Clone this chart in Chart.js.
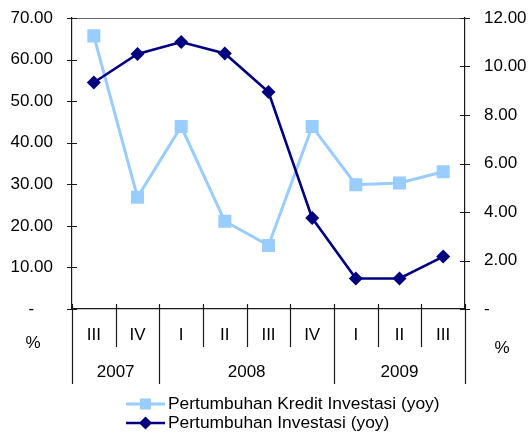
<!DOCTYPE html>
<html>
<head>
<meta charset="utf-8">
<script src="https://cdn.jsdelivr.net/npm/chart.js@4/dist/chart.umd.min.js"></script>
<style>
  html, body { margin: 0; padding: 0; background: #fff; }
  canvas { display: block; }
</style>
</head>
<body>
<canvas id="c" width="529" height="436"></canvas>
<script>
// Quarterly growth, year on year (%)
const quarters = ['III', 'IV', 'I', 'II', 'III', 'IV', 'I', 'II', 'III'];
const years = ['2007', '2008', '2009'];
const yearSpans = [2, 4, 3]; // quarters per year group
const kreditInvestasi = [65.7, 26.9, 43.9, 21.1, 15.3, 43.9, 29.9, 30.3, 33.0];
const investasi = [9.34, 10.52, 11.01, 10.54, 8.95, 3.75, 1.26, 1.26, 2.16];
const seriesNames = ['Pertumbuhan Kredit Investasi (yoy)', 'Pertumbuhan Investasi (yoy)'];
const leftTicks = [0, 10, 20, 30, 40, 50, 60, 70];
const rightTicks = [0, 2, 4, 6, 8, 10, 12];

const FONT = 'Liberation Sans, Arial, sans-serif';
const FS = 17;
const LIGHT = '#99CCFF';
const NAVY = '#000080';
const AXIS = '#1a1a1a';

// accounting-style number format: zero shown as a dash
function fmtLeft(v) { return v === 0 ? '-    ' : v.toFixed(2); }
function fmtRight(v) { return v === 0 ? '-' : v.toFixed(2); }

// fixed axis sizes so the plot area sits where the layout needs it
function fixPadding(s) {
  s.paddingTop = 0; s.paddingBottom = 0; s.paddingLeft = 0; s.paddingRight = 0;
}

const decorations = {
  id: 'decorations',
  afterDraw(chart) {
    const ctx = chart.ctx;
    const a = chart.chartArea;
    const x = chart.scales.x, yl = chart.scales.y, yr = chart.scales.y2;
    ctx.save();
    // top border of plot area
    ctx.strokeStyle = '#666';
    ctx.lineWidth = 1;
    ctx.beginPath();
    ctx.moveTo(a.left, Math.round(a.top) + 0.5);
    ctx.lineTo(a.right, Math.round(a.top) + 0.5);
    ctx.stroke();

    ctx.strokeStyle = AXIS;
    ctx.lineWidth = 1.2;
    // crossing tick marks on both value axes
    ctx.beginPath();
    leftTicks.forEach(v => {
      const p = Math.round(yl.getPixelForValue(v)) + 0.5;
      ctx.moveTo(a.left - 5, p); ctx.lineTo(a.left + 5, p);
    });
    rightTicks.forEach(v => {
      const p = Math.round(yr.getPixelForValue(v)) + 0.5;
      ctx.moveTo(a.right - 5, p); ctx.lineTo(a.right + 5, p);
    });
    ctx.stroke();

    // category separators
    const bound = i => {
      if (i === 0) return a.left;
      if (i === quarters.length) return a.right;
      return (x.getPixelForValue(i - 1) + x.getPixelForValue(i)) / 2;
    };
    const yearBounds = [0];
    yearSpans.forEach(s => yearBounds.push(yearBounds[yearBounds.length - 1] + s));
    ctx.beginPath();
    for (let i = 0; i <= quarters.length; i++) {
      const bx = Math.round(bound(i)) + 0.5;
      const long = yearBounds.includes(i);
      ctx.moveTo(bx, a.bottom - 5);
      ctx.lineTo(bx, long ? a.bottom + 75 : a.bottom + 38);
    }
    ctx.stroke();

    // year labels
    ctx.fillStyle = '#000';
    ctx.font = FS + 'px ' + FONT;
    ctx.textAlign = 'center';
    ctx.textBaseline = 'middle';
    years.forEach((yr_, k) => {
      const cx = (bound(yearBounds[k]) + bound(yearBounds[k + 1])) / 2;
      ctx.fillText(yr_, cx, a.bottom + 63);
    });
    // unit labels
    ctx.fillText('%', 33, a.bottom + 34);
    ctx.fillText('%', 502, a.bottom + 39);

    // legend
    const items = chart.data.datasets;
    const rows = [404, 423];
    ctx.font = '17.4px ' + FONT;
    ctx.textAlign = 'left';
    items.forEach((ds, k) => {
      const ry = rows[k];
      ctx.strokeStyle = ds.borderColor;
      ctx.lineWidth = ds.borderWidth;
      ctx.beginPath();
      ctx.moveTo(126, ry); ctx.lineTo(165, ry);
      ctx.stroke();
      ctx.fillStyle = ds.pointBackgroundColor;
      ctx.beginPath();
      if (ds.pointStyle === 'rect') {
        ctx.rect(140, ry - 5.5, 11, 11);
      } else {
        ctx.moveTo(145.5, ry - 6.5); ctx.lineTo(152, ry);
        ctx.lineTo(145.5, ry + 6.5); ctx.lineTo(139, ry);
        ctx.closePath();
      }
      ctx.fill();
      ctx.fillStyle = '#000';
      ctx.fillText(ds.label, 168, ry);
    });
    ctx.restore();
  }
};

new Chart(document.getElementById('c'), {
  type: 'line',
  data: {
    labels: quarters,
    datasets: [
      {
        label: seriesNames[0],
        data: kreditInvestasi,
        yAxisID: 'y',
        borderColor: LIGHT,
        backgroundColor: LIGHT,
        pointBackgroundColor: LIGHT,
        pointBorderColor: LIGHT,
        borderWidth: 3,
        pointStyle: 'rect',
        pointRadius: 9.2,
        pointBorderWidth: 0,
        tension: 0,
        order: 1
      },
      {
        label: seriesNames[1],
        data: investasi,
        yAxisID: 'y2',
        borderColor: NAVY,
        backgroundColor: NAVY,
        pointBackgroundColor: NAVY,
        pointBorderColor: NAVY,
        borderWidth: 2.6,
        pointStyle: 'rectRot',
        pointRadius: 7,
        pointBorderWidth: 0,
        tension: 0,
        order: 0
      }
    ]
  },
  options: {
    responsive: false,
    animation: false,
    events: [],
    layout: { padding: { top: 18, left: 0, right: 0, bottom: 0 } },
    plugins: { legend: { display: false }, tooltip: { enabled: false } },
    scales: {
      x: {
        type: 'category',
        offset: true,
        grid: { display: false, drawTicks: false },
        border: { display: true, color: AXIS, width: 1.2 },
        ticks: { color: '#000', font: { family: FONT, size: FS }, padding: 16, maxRotation: 0, autoSkip: false },
        afterFit(s) { s.height = 127; fixPadding(s); }
      },
      y: {
        position: 'left',
        min: 0, max: 70,
        afterBuildTicks(s) { s.ticks = leftTicks.map(v => ({ value: v })); },
        grid: { display: false, drawTicks: false },
        border: { display: true, color: AXIS, width: 1.2 },
        ticks: { color: '#000', font: { family: FONT, size: FS }, padding: 19, callback: v => fmtLeft(v) },
        afterFit(s) { s.width = 72; fixPadding(s); }
      },
      y2: {
        position: 'right',
        min: 0, max: 12,
        afterBuildTicks(s) { s.ticks = rightTicks.map(v => ({ value: v })); },
        grid: { display: false, drawTicks: false },
        border: { display: true, color: AXIS, width: 1.2 },
        ticks: { color: '#000', font: { family: FONT, size: FS }, padding: 19, callback: v => fmtRight(v) },
        afterFit(s) { s.width = 64; fixPadding(s); }
      }
    }
  },
  plugins: [decorations]
});
</script>
</body>
</html>
